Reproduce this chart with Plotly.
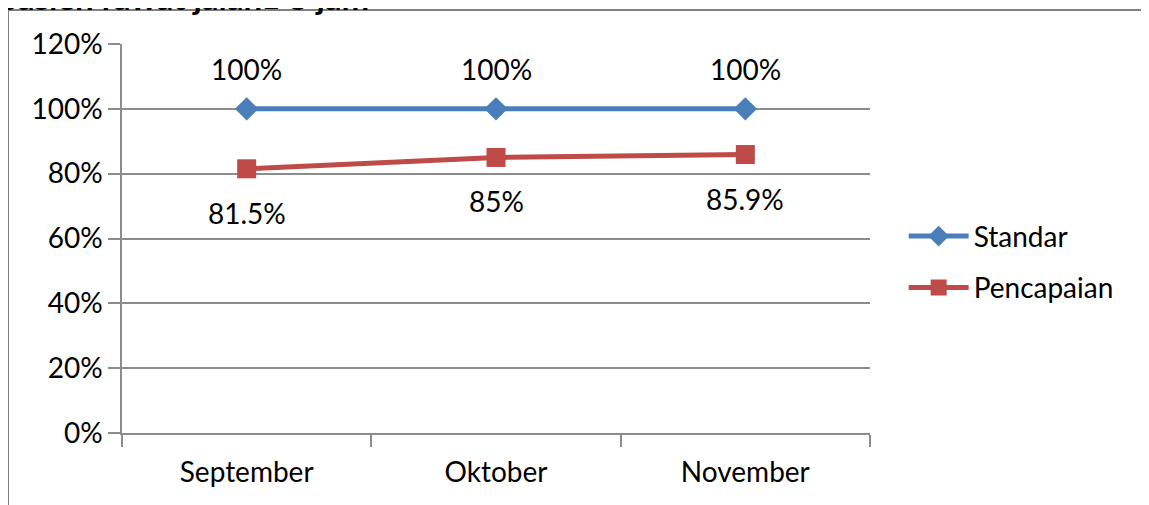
import plotly.graph_objects as go

months = ["September", "Oktober", "November"]
standar = [1.00, 1.00, 1.00]
pencapaian = [0.815, 0.85, 0.859]
standar_labels = ["100%", "100%", "100%"]
pencapaian_labels = ["81.5%", "85%", "85.9%"]
y_ticks = [0, 0.2, 0.4, 0.6, 0.8, 1.0, 1.2]
y_tick_labels = ["0%", "20%", "40%", "60%", "80%", "100%", "120%"]
title_text = "pasien rawat jalan≤ 5 jam"

BLUE = "#4A7EBB"
RED = "#BE4B48"
GRID = "#8C8C8C"
FONT = "Lato"
FS = 28

fig = go.Figure()
fig.add_trace(go.Scatter(
    x=months, y=standar, name="Standar", mode="lines+markers",
    line=dict(color=BLUE, width=5),
    marker=dict(symbol="diamond", size=18, color=BLUE),
    legendgroup="a", cliponaxis=False,
))
fig.add_trace(go.Scatter(
    x=months, y=pencapaian, name="Pencapaian", mode="lines+markers",
    line=dict(color=RED, width=5),
    marker=dict(symbol="square", size=19, color=RED),
    legendgroup="b", cliponaxis=False,
))

annotations = []
for m, v, t in zip(months, standar, standar_labels):
    annotations.append(dict(x=m, y=v, text=t, showarrow=False, yshift=40,
                            font=dict(family=FONT, size=FS, color="black")))
for m, v, t in zip(months, pencapaian, pencapaian_labels):
    annotations.append(dict(x=m, y=v, text=t, showarrow=False, yshift=-44,
                            font=dict(family=FONT, size=FS, color="black")))
annotations.append(dict(
    xref="paper", yref="paper", x=-0.167, y=1.063, xanchor="left", yanchor="bottom",
    text="<b>" + title_text + "</b>", showarrow=False,
    font=dict(family=FONT, size=33, color="black"),
))

# chart frame
shapes = [
    dict(type="line", xref="paper", yref="paper", x0=-0.1524, x1=1.372, y0=1.0874, y1=1.0874,
         line=dict(color="#808080", width=2)),
    dict(type="line", xref="paper", yref="paper", x0=-0.1524, x1=-0.1524, y0=-0.25, y1=1.0874,
         line=dict(color="#808080", width=2)),
    dict(type="line", xref="paper", yref="paper", x0=1.3717, x1=1.3717, y0=-0.25, y1=1.0874,
         line=dict(color="#E6E6E6", width=1)),
]

# page body has an 8px margin; compensate in the figure margins
fig.update_layout(
    width=1149, height=505,
    margin=dict(l=114, r=287, t=36, b=80),
    paper_bgcolor="white", plot_bgcolor="white",
    font=dict(family=FONT, size=FS, color="black"),
    showlegend=True,
    legend=dict(x=1.045, y=0.44, xanchor="left", yanchor="middle",
                font=dict(family=FONT, size=FS, color="black"),
                tracegroupgap=12, traceorder="grouped", itemwidth=60,
                bgcolor="rgba(0,0,0,0)"),
    annotations=annotations,
    shapes=shapes,
)
fig.update_xaxes(
    type="category", range=[-0.5, 2.5],
    showgrid=False, showline=True, linecolor=GRID, linewidth=1.5,
    ticks="outside", tickson="boundaries", ticklen=12, tickcolor=GRID, tickwidth=1.5,
    ticklabelstandoff=14,
    tickfont=dict(family=FONT, size=FS, color="black"),
)
fig.update_yaxes(
    range=[0, 1.2], tickvals=y_ticks, ticktext=y_tick_labels,
    showgrid=True, gridcolor=GRID, gridwidth=1.5,
    showline=True, linecolor=GRID, linewidth=1.5,
    ticks="outside", ticklen=12, tickcolor=GRID, tickwidth=1.5,
    tickfont=dict(family=FONT, size=FS, color="black"),
    zeroline=False,
)

fig.write_html("out.html")
